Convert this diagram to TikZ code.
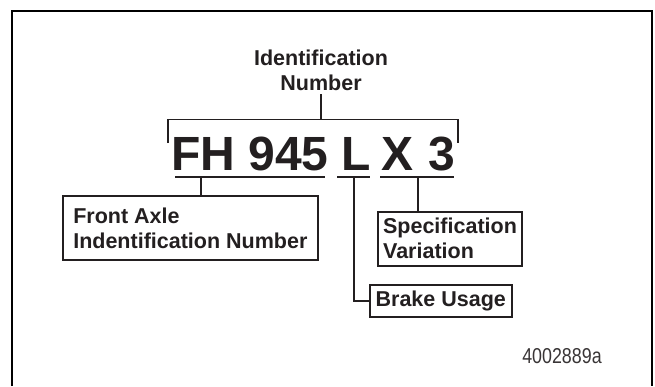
\documentclass[tikz,border=0pt]{standalone}
\usepackage{fontspec}
\setmainfont{Liberation Sans}
\newfontfamily\narrowfont[FakeStretch=0.83]{Liberation Sans}
\definecolor{ink}{HTML}{231F20}
\begin{document}
\begin{tikzpicture}[x=1bp,y=-1bp,
  lbl/.style={font=\fontsize{21.5bp}{25bp}\selectfont\bfseries, text=ink, inner sep=0pt},
  code/.style={font=\fontsize{48bp}{48bp}\selectfont\bfseries, text=ink, inner sep=0pt, anchor=base},
  box/.style={lbl, draw=ink, line width=2bp, align=left},
  ln/.style={draw=ink, line width=1.8bp},
  ul/.style={draw=ink, line width=2.2bp},
]
\useasboundingbox (0,0) rectangle (655,386);
\draw[line width=2bp] (11.7,386) -- (11.7,10.7) -- (652,10.7) -- (652,386);

\node[lbl, align=center, anchor=north] (hdr) at (321,50) {Identification\\Number};

\node[code] (fh) at (250,170) {FH 945};
\node[code] (l) at (356.5,170) {L};
\node[code] (x) at (397.5,170) {X};
\node[code] (three) at (441.5,170) {3};

\coordinate (fhA) at (175,176.7);
\coordinate (fhB) at (325,176.7);
\coordinate (lA) at (337,176.7);
\coordinate (lB) at (370,176.7);
\coordinate (xA) at (380,176.7);
\coordinate (xB) at (454,176.7);
\draw[ul] (fhA) -- (fhB);
\draw[ul] (lA) -- (lB);
\draw[ul] (xA) -- (xB);

\coordinate (brL) at (168,143);
\coordinate (brR) at (458,143);
\coordinate (brC) at (321,119.5);
\draw[ln] (brL) -- (168,119.5) -- (458,119.5) -- (brR);
\draw[ln] ([yshift=-3bp]hdr.south) -- (brC);

\node[box, minimum width=255.3bp, minimum height=64bp] (fa) at (190.35,228) {Front Axle\\Indentification Number};
\node[box, minimum width=144bp, minimum height=54bp] (spec) at (450,238.5) {Specification\\Variation};
\node[box, minimum width=142.5bp, minimum height=32bp] (brake) at (440.75,301) {Brake Usage};

\coordinate (fhd) at (200.7,176.7);
\coordinate (ld) at (354,176.7);
\coordinate (xd) at (418,176.7);
\draw[ln] (fhd) -- (fhd |- fa.north);
\draw[ln] (ld) |- (brake.west);
\draw[ln] (xd) -- (xd |- spec.north);

\node[font=\narrowfont\fontsize{21.5bp}{25bp}\selectfont, text=ink!90, anchor=base, inner sep=0pt] (id) at (562,363) {4002889a};
\end{tikzpicture}
\end{document}
